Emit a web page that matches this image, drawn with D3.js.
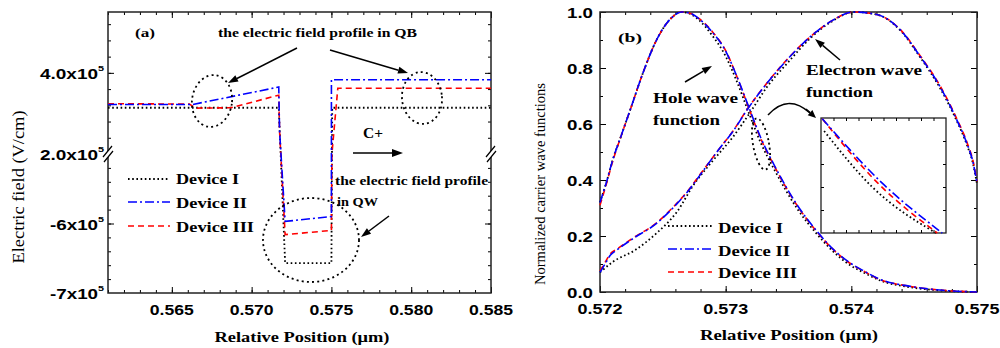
<!DOCTYPE html>
<html>
<head>
<meta charset="utf-8">
<script src="https://cdn.jsdelivr.net/npm/d3@7"></script>
<style>
  body { margin: 0; background: #fff; }
  svg { display: block; }
</style>
</head>
<body>
<script>
// ---- panel (a): electric field, [position (um), field (V/cm)] ----
const fieldDevI = [[0.561, 3.14e5], [0.5717, 3.14e5], [0.5721, -6.57e5], [0.5750, -6.57e5],
    [0.57505, 3.14e5], [0.585, 3.14e5]];
const fieldDevII = [[0.561, 3.22e5], [0.5663, 3.22e5], [0.5717, 3.65e5], [0.57175, 2.57e5],
    [0.5721, -5.97e5], [0.5750, -5.90e5], [0.5750, 3.83e5], [0.585, 3.83e5]];
const fieldDevIII = [[0.561, 3.24e5], [0.5661, 3.23e5], [0.5665, 3.13e5], [0.5687, 3.14e5],
    [0.5717, 3.45e5], [0.57175, 2.57e5], [0.5721, -6.16e5], [0.5750, -6.10e5],
    [0.57503, -5.0e5], [0.5754, 3.62e5], [0.585, 3.62e5]];

// ---- panel (b): normalized wave functions, [position (um), value] ----
const holeDevI = [[0.57200, 0.32], [0.57205, 0.39], [0.57210, 0.47], [0.57217, 0.56], [0.57224, 0.65],
    [0.57234, 0.78], [0.57245, 0.90], [0.57256, 0.975], [0.57265, 1.0], [0.57272, 0.993],
    [0.57279, 0.97], [0.57289, 0.918], [0.57300, 0.842], [0.57308, 0.762], [0.57318, 0.645],
    [0.57328, 0.532], [0.57339, 0.435], [0.57357, 0.297], [0.57373, 0.205], [0.57385, 0.147],
    [0.57397, 0.102], [0.57410, 0.069], [0.57423, 0.041], [0.57447, 0.017], [0.57473, 0.005],
    [0.57500, 0.0]];
const holeDevII = [[0.57200, 0.32], [0.57205, 0.39], [0.57210, 0.47], [0.57217, 0.56], [0.57224, 0.65],
    [0.57234, 0.78], [0.57245, 0.90], [0.57256, 0.975], [0.57265, 1.0], [0.57272, 0.995],
    [0.57279, 0.975], [0.57289, 0.93], [0.57300, 0.86], [0.57308, 0.78], [0.57318, 0.665],
    [0.57328, 0.55], [0.57339, 0.45], [0.57357, 0.31], [0.57373, 0.215], [0.57385, 0.155],
    [0.57397, 0.11], [0.57410, 0.075], [0.57423, 0.045], [0.57447, 0.02], [0.57473, 0.006],
    [0.57500, 0.0]];
const holeDevIII = [[0.57200, 0.31], [0.57205, 0.385], [0.57210, 0.465], [0.57217, 0.56], [0.57224, 0.65],
    [0.57234, 0.78], [0.57245, 0.90], [0.57256, 0.975], [0.57265, 1.0], [0.57272, 0.995],
    [0.57279, 0.976], [0.57289, 0.932], [0.57300, 0.862], [0.57308, 0.78], [0.57318, 0.662],
    [0.57328, 0.547], [0.57339, 0.447], [0.57357, 0.308], [0.57373, 0.213], [0.57385, 0.154],
    [0.57397, 0.109], [0.57410, 0.074], [0.57423, 0.044], [0.57447, 0.02], [0.57473, 0.006],
    [0.57500, 0.0]];

const electronDevI = [[0.57200, 0.07], [0.57210, 0.107], [0.57228, 0.15], [0.57245, 0.21],
    [0.57261, 0.285], [0.57275, 0.386], [0.57290, 0.47], [0.57306, 0.555], [0.57320, 0.645],
    [0.57333, 0.733], [0.57350, 0.822], [0.57367, 0.905], [0.57385, 0.968], [0.57402, 1.0],
    [0.57421, 0.99], [0.57439, 0.934], [0.57455, 0.837], [0.57471, 0.725], [0.57484, 0.61],
    [0.57492, 0.525], [0.57497, 0.455], [0.57500, 0.385]];
const electronDevII = [[0.57200, 0.07], [0.57204, 0.10], [0.57208, 0.13], [0.57214, 0.152],
    [0.57226, 0.19], [0.57245, 0.245], [0.57258, 0.30], [0.57270, 0.36], [0.57280, 0.42],
    [0.57293, 0.50], [0.57306, 0.575], [0.57318, 0.657], [0.57333, 0.746], [0.57349, 0.83],
    [0.57367, 0.91], [0.57385, 0.97], [0.57402, 1.0], [0.57421, 0.99], [0.57439, 0.936],
    [0.57455, 0.84], [0.57471, 0.73], [0.57484, 0.614], [0.57492, 0.53], [0.57497, 0.46],
    [0.57500, 0.39]];
const electronDevIII = [[0.57200, 0.075], [0.57204, 0.105], [0.57208, 0.135], [0.57214, 0.155],
    [0.57226, 0.192], [0.57245, 0.247], [0.57258, 0.302], [0.57270, 0.362], [0.57280, 0.422],
    [0.57293, 0.50], [0.57306, 0.576], [0.57318, 0.658], [0.57333, 0.747], [0.57349, 0.831],
    [0.57367, 0.91], [0.57385, 0.97], [0.57402, 1.0], [0.57421, 0.99], [0.57439, 0.937],
    [0.57455, 0.842], [0.57471, 0.733], [0.57484, 0.618], [0.57492, 0.535], [0.57497, 0.465],
    [0.57500, 0.395]];

// inset: zoom on the hole wave function near the crossing
const insetDevI = [[0.573205, 0.583], [0.573282, 0.51], [0.573384, 0.45]];
const insetDevII = [[0.573202, 0.599], [0.573298, 0.515], [0.573394, 0.45]];
const insetDevIII = [[0.573202, 0.599], [0.573291, 0.515], [0.573386, 0.45]];

// ---- tick labels ----
const xTicksA = [0.565, 0.570, 0.575, 0.580, 0.585];
const yTicksA = [[4e5, '4.0x10'], [2e5, '2.0x10'], [-6e5, '-6x10'], [-7e5, '-7x10']];
const xTicksB = [0.572, 0.573, 0.574, 0.575];
const yTicksB = [0, 0.2, 0.4, 0.6, 0.8, 1.0];
const deviceNames = ['Device I', 'Device II', 'Device III'];

const styles = [
    { color: '#000', dash: '1.6,2.6', width: 1.8 },
    { color: '#0000ff', dash: '9,3,2,3', width: 1.6 },
    { color: '#ff0000', dash: '6,4', width: 1.6 }
];

const serif = '"Liberation Serif", "Times New Roman", serif';
const sans = '"Liberation Sans", Arial, sans-serif';

const svg = d3.select('body').append('svg').attr('width', 1000).attr('height', 348);

function label(g, x, y, s, o) {
    o = o || {};
    const t = g.append('text')
        .attr('x', x).attr('y', y)
        .attr('font-family', o.font || serif)
        .attr('font-weight', o.weight || 'bold')
        .attr('font-size', o.size || 13)
        .attr('text-anchor', o.anchor || 'start')
        .attr('fill', '#000')
        .text(s);
    if (o.len) t.attr('textLength', o.len).attr('lengthAdjust', 'spacingAndGlyphs');
    if (o.rotate) t.attr('transform', `rotate(-90,${x},${y})`);
    return t;
}

function arrow(g, x1, y1, x2, y2, len, wid) {
    len = len || 10; wid = wid || 3.5;
    const a = Math.atan2(y2 - y1, x2 - x1);
    const bx = x2 - len * Math.cos(a), by = y2 - len * Math.sin(a);
    g.append('line').attr('x1', x1).attr('y1', y1).attr('x2', bx).attr('y2', by)
        .attr('stroke', '#000').attr('stroke-width', 1.5);
    const px = -Math.sin(a) * wid, py = Math.cos(a) * wid;
    g.append('path').attr('d', `M${x2},${y2}L${bx + px},${by + py}L${bx - px},${by - py}Z`).attr('fill', '#000');
}

function dottedEllipse(g, cx, cy, rx, ry, rot) {
    g.append('ellipse').attr('cx', cx).attr('cy', cy).attr('rx', rx).attr('ry', ry)
        .attr('transform', `rotate(${rot || 0},${cx},${cy})`)
        .attr('fill', 'none').attr('stroke', '#000').attr('stroke-width', 1.8)
        .attr('stroke-dasharray', '2,3.2');
}

// inward ticks with a d3 axis, no domain line, no labels
function ticks(g, axisFn, scale, vals, size, tx, ty) {
    g.append('g').attr('transform', `translate(${tx},${ty})`)
        .call(axisFn(scale).tickValues(vals).tickSize(size).tickFormat(''))
        .call(a => a.select('.domain').remove())
        .selectAll('line').attr('stroke', '#000').attr('stroke-width', 1);
}

function breakMark(g, x, y) {
    g.append('path').attr('d', `M${x - 5},${y + 3}L${x + 4},${y - 8}L${x + 5},${y - 3}L${x - 4},${y + 8}Z`)
        .attr('fill', '#fff');
    g.append('path').attr('d', `M${x - 5},${y + 3}L${x + 4},${y - 8}M${x - 4},${y + 8}L${x + 5},${y - 3}`)
        .attr('stroke', '#000').attr('stroke-width', 1.2).attr('fill', 'none');
}

// =============== panel (a) ===============
const gA = svg.append('g');
const A = { left: 108, right: 491, top: 12, bottom: 293, brk: 154 };
const xA = d3.scaleLinear().domain([0.561, 0.585]).range([A.left, A.right]);
const yTop = d3.scaleLinear().domain([2e5, 5.5e5]).range([A.brk, A.top]);
const yBot = d3.scaleLinear().domain([-7e5, -5e5]).range([A.bottom, A.brk]);
const yA = v => v >= 2e5 ? yTop(v) : (v <= -5e5 ? yBot(v) : A.brk);

const minorXA = d3.range(561, 586).map(d => d / 1000);
ticks(gA, d3.axisBottom, xA, minorXA, -3, 0, A.bottom);
ticks(gA, d3.axisBottom, xA, xTicksA, -6, 0, A.bottom);
ticks(gA, d3.axisTop, xA, minorXA, -3, 0, A.top);
ticks(gA, d3.axisTop, xA, xTicksA, -6, 0, A.top);
const minorTop = d3.range(6, 14).map(d => d * 0.4e5);
const minorBot = d3.range(-34, -25).map(d => d * 0.2e5);
[[d3.axisLeft, A.left], [d3.axisRight, A.right]].forEach(([fn, x]) => {
    ticks(gA, fn, yTop, minorTop, -3, x, 0);
    ticks(gA, fn, yTop, [4e5], -6, x, 0);
    ticks(gA, fn, yBot, minorBot, -3, x, 0);
    ticks(gA, fn, yBot, [-6e5], -6, x, 0);
});
gA.append('rect').attr('x', A.left).attr('y', A.top)
    .attr('width', A.right - A.left).attr('height', A.bottom - A.top)
    .attr('fill', 'none').attr('stroke', '#222').attr('stroke-width', 1.5);
breakMark(gA, A.left, A.brk);
breakMark(gA, A.right, A.brk);

const lineA = d3.line().x(d => xA(d[0])).y(d => yA(d[1]));
[fieldDevI, fieldDevIII, fieldDevII].forEach((data, k) => {
    const s = styles[[0, 2, 1][k]];
    gA.append('path').datum(data).attr('d', lineA)
        .attr('fill', 'none').attr('stroke', s.color).attr('stroke-width', s.width)
        .attr('stroke-dasharray', s.dash);
});

xTicksA.forEach(v => label(gA, xA(v), 315, v.toFixed(3), { font: sans, size: 14, anchor: 'middle', len: 44 }));
yTicksA.forEach(([v, s]) => {
    const t = gA.append('text').attr('x', 104).attr('y', yA(v) + 6)
        .attr('text-anchor', 'end').attr('font-family', sans).attr('font-weight', 'bold')
        .attr('font-size', 14)
        .attr('textLength', s.length === 6 ? 64 : 54).attr('lengthAdjust', 'spacingAndGlyphs');
    t.append('tspan').text(s);
    t.append('tspan').attr('dy', -8).attr('font-size', 8).text('5');
});
label(gA, 302, 342, 'Relative Position (\u03bcm)', { size: 15, anchor: 'middle', len: 175 });
label(gA, 24, 187, 'Electric field (V/cm)', { size: 16, weight: 'normal', anchor: 'middle', len: 153, rotate: true });

// annotations (a)
label(gA, 135, 37, '(a)', { size: 13, len: 20 });
label(gA, 218, 37, 'the electric field profile  in QB', { size: 12, len: 199 });
arrow(gA, 297, 48, 228, 83);
arrow(gA, 330, 50, 408, 73);
dottedEllipse(gA, 212, 101, 20, 26, 8);
dottedEllipse(gA, 422, 98, 20, 26, -5);
label(gA, 363, 138, 'C+', { size: 14, len: 20 });
arrow(gA, 353, 153, 403, 153, 11, 4);
label(gA, 335, 185, 'the electric field profile', { size: 12, len: 153 });
label(gA, 337, 206, 'in QW', { size: 12, len: 41 });
arrow(gA, 389, 216, 361, 237);
dottedEllipse(gA, 311, 240, 48, 42, 0);

// legend (a)
const legY_A = [179, 202, 226], legT_A = [184, 208, 232], legL_A = [63, 71, 78];
deviceNames.forEach((n, i) => {
    const s = styles[i];
    gA.append('line').attr('x1', 128).attr('x2', 170).attr('y1', legY_A[i]).attr('y2', legY_A[i])
        .attr('stroke', s.color).attr('stroke-width', s.width).attr('stroke-dasharray', s.dash);
    label(gA, 176, legT_A[i], n, { size: 15, len: legL_A[i] });
});

// =============== panel (b) ===============
const gB = svg.append('g');
const B = { left: 600, right: 977, top: 12, bottom: 292 };
const xB = d3.scaleLinear().domain([0.572, 0.575]).range([B.left, B.right]);
const yB = d3.scaleLinear().domain([0, 1]).range([B.bottom, B.top]);

const minorXB = d3.range(5720, 5751, 2).map(d => d / 10000);
const minorYB = d3.range(0, 11).map(d => d / 10);
ticks(gB, d3.axisBottom, xB, minorXB, -3, 0, B.bottom);
ticks(gB, d3.axisBottom, xB, xTicksB, -6, 0, B.bottom);
ticks(gB, d3.axisTop, xB, minorXB, -3, 0, B.top);
ticks(gB, d3.axisTop, xB, xTicksB, -6, 0, B.top);
ticks(gB, d3.axisLeft, yB, minorYB, -3, B.left, 0);
ticks(gB, d3.axisLeft, yB, yTicksB, -6, B.left, 0);
ticks(gB, d3.axisRight, yB, minorYB, -3, B.right, 0);
ticks(gB, d3.axisRight, yB, yTicksB, -6, B.right, 0);
gB.append('rect').attr('x', B.left).attr('y', B.top)
    .attr('width', B.right - B.left).attr('height', B.bottom - B.top)
    .attr('fill', 'none').attr('stroke', '#222').attr('stroke-width', 1.5);

const lineB = d3.line().x(d => xB(d[0])).y(d => yB(d[1])).curve(d3.curveMonotoneX);
[[holeDevI, electronDevI, 0], [holeDevIII, electronDevIII, 2], [holeDevII, electronDevII, 1]].forEach(([h, e, k]) => {
    const s = styles[k];
    [h, e].forEach(data => {
        gB.append('path').datum(data).attr('d', lineB)
            .attr('fill', 'none').attr('stroke', s.color).attr('stroke-width', s.width)
            .attr('stroke-dasharray', s.dash);
    });
});

xTicksB.forEach(v => label(gB, xB(v), 314, v.toFixed(3), { font: sans, size: 14, anchor: 'middle', len: 45 }));
yTicksB.forEach(v => label(gB, 593, yB(v) + 6, v.toFixed(1), { font: sans, size: 14, anchor: 'end', len: 26 }));
label(gB, 789, 340, 'Relative Position (\u03bcm)', { size: 15, anchor: 'middle', len: 178 });
label(gB, 545, 184, 'Normalized carrier wave functions', { size: 15, weight: 'normal', anchor: 'middle', len: 202, rotate: true });

// inset
const I = { left: 821, right: 946, top: 118, bottom: 233 };
const xI = d3.scaleLinear().domain([0.5732, 0.5734]).range([I.left, I.right]);
const yI = d3.scaleLinear().domain([0.45, 0.60]).range([I.bottom, I.top]);
gB.append('rect').attr('x', I.left).attr('y', I.top)
    .attr('width', I.right - I.left).attr('height', I.bottom - I.top)
    .attr('fill', '#fff').attr('stroke', '#222').attr('stroke-width', 1.3);
const minorXI = d3.range(1, 10).map(d => 0.5732 + d * 0.00002);
const minorYI = d3.range(1, 5).map(d => 0.45 + d * 0.03);
ticks(gB, d3.axisBottom, xI, minorXI, -3, 0, I.bottom);
ticks(gB, d3.axisTop, xI, minorXI, -3, 0, I.top);
ticks(gB, d3.axisLeft, yI, minorYI, -3, I.left, 0);
ticks(gB, d3.axisRight, yI, minorYI, -3, I.right, 0);
const lineI = d3.line().x(d => xI(d[0])).y(d => yI(d[1])).curve(d3.curveMonotoneX);
[[insetDevI, 0], [insetDevIII, 2], [insetDevII, 1]].forEach(([data, k]) => {
    const s = styles[k];
    gB.append('path').datum(data).attr('d', lineI)
        .attr('fill', 'none').attr('stroke', s.color).attr('stroke-width', s.width)
        .attr('stroke-dasharray', s.dash);
});

// annotations (b)
label(gB, 618, 42, '(b)', { size: 13, len: 24 });
label(gB, 653, 103, 'Hole wave', { size: 14, len: 85 });
label(gB, 653, 125, 'function', { size: 14, len: 67 });
arrow(gB, 685, 82, 712, 66);
label(gB, 806, 75, 'Electron wave', { size: 14, len: 116 });
label(gB, 806, 97, 'function', { size: 14, len: 67 });
arrow(gB, 840, 60, 815, 39);
dottedEllipse(gB, 761, 144, 8, 26, -10);
gB.append('path').attr('d', 'M768,115Q788,93 810,113')
    .attr('fill', 'none').attr('stroke', '#000').attr('stroke-width', 1.5);
arrow(gB, 806, 109, 816, 118, 8, 3.5);

// legend (b)
const legY_B = [226, 249, 272], legT_B = [233, 256, 278], legL_B = [65, 72, 79];
deviceNames.forEach((n, i) => {
    const s = styles[i];
    gB.append('line').attr('x1', 668).attr('x2', 712).attr('y1', legY_B[i]).attr('y2', legY_B[i])
        .attr('stroke', s.color).attr('stroke-width', s.width).attr('stroke-dasharray', s.dash);
    label(gB, 718, legT_B[i], n, { size: 15, len: legL_B[i] });
});
</script>
</body>
</html>
